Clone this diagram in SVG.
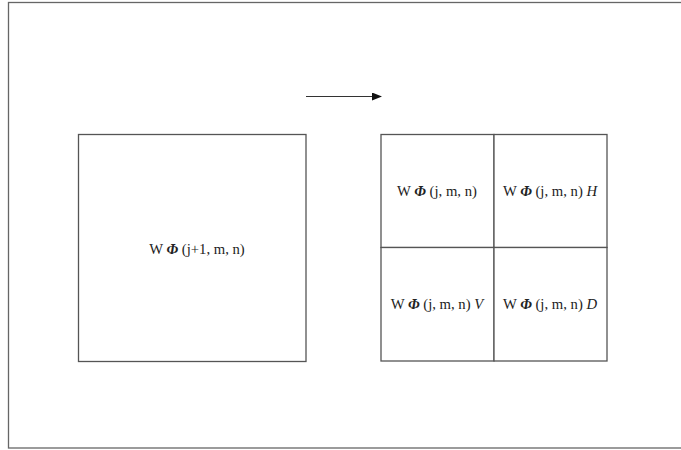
<svg xmlns="http://www.w3.org/2000/svg" width="681" height="450" viewBox="0 0 681 450">
<style>
.box{fill:#fff;stroke:#555;stroke-width:1.3}
.t{font-family:"Liberation Serif","Times New Roman",serif;font-size:14.7px;fill:#222;text-anchor:middle}
.phi{font-style:italic;font-weight:bold}
.it{font-style:italic}
.c{stroke:#333;stroke-width:1.2;fill:none}
</style>
<defs>
<marker id="ah" markerWidth="10" markerHeight="8" refX="9" refY="4" orient="auto" markerUnits="userSpaceOnUse">
<path d="M0,0 L10,4 L0,8 Z" fill="#111"/>
</marker>
</defs>
<rect width="681" height="450" fill="#fff"/>
<g id="frame"><rect x="8.5" y="2.5" width="690" height="445.5" fill="none" stroke="#666" stroke-width="1.3"/></g>
<g id="left">
<rect class="box" x="78.5" y="134.5" width="227.5" height="227"/>
<text class="t" x="197" y="254">W <tspan class="phi">Φ</tspan> (j+1, m, n)</text>
</g>
<g id="q1">
<rect class="box" x="381" y="134.5" width="113" height="113"/>
<text class="t" x="437" y="196">W <tspan class="phi">Φ</tspan> (j, m, n)</text>
</g>
<g id="q2">
<rect class="box" x="494" y="134.5" width="113" height="113"/>
<text class="t" x="550" y="196">W <tspan class="phi">Φ</tspan> (j, m, n) <tspan class="it">H</tspan></text>
</g>
<g id="q3">
<rect class="box" x="381" y="247.5" width="113" height="113.5"/>
<text class="t" x="437" y="309">W <tspan class="phi">Φ</tspan> (j, m, n) <tspan class="it">V</tspan></text>
</g>
<g id="q4">
<rect class="box" x="494" y="247.5" width="113" height="113.5"/>
<text class="t" x="550" y="309">W <tspan class="phi">Φ</tspan> (j, m, n) <tspan class="it">D</tspan></text>
</g>
<g id="connectors">
<line class="c" x1="306" y1="96.5" x2="381" y2="96.5" marker-end="url(#ah)"/>
</g>
</svg>
